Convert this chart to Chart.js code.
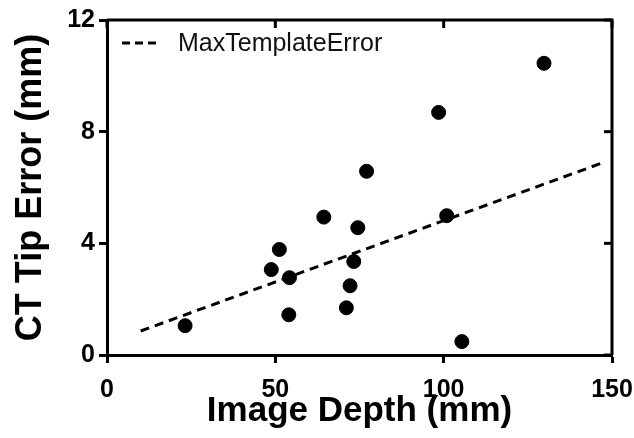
<!DOCTYPE html>
<html>
<head>
<meta charset="utf-8">
<script src="https://cdn.jsdelivr.net/npm/chart.js@4"></script>
<style>
  html, body { margin: 0; padding: 0; background: #fff; }
  #wrap { width: 634px; height: 438px; }
</style>
</head>
<body>
<div id="wrap"><canvas id="grafico"></canvas></div>
<script>
// dados
const profundidade = [23.2, 48.8, 51.2, 54.2, 54.0, 64.4, 71.1, 72.2, 73.3, 74.5, 77.1, 98.5, 100.9, 105.4, 129.8];
const erroPonta = [1.05, 3.06, 3.78, 2.77, 1.44, 4.94, 1.69, 2.48, 3.35, 4.56, 6.58, 8.69, 4.99, 0.48, 10.45];
const linhaX = [10, 148];
const linhaY = [0.86, 6.92];
const ticksX = [0, 50, 100, 150];
const ticksY = [0, 4, 8, 12];
const nomeLinha = "MaxTemplateError";

const FONTE = "'Liberation Sans', Arial, Helvetica, sans-serif";

const pontos = profundidade.map((x, i) => ({ x: x, y: erroPonta[i] }));
const linha = linhaX.map((x, i) => ({ x: x, y: linhaY[i] }));

// moldura superior/direita com ticks para dentro e legenda
const moldura = {
  id: "moldura",
  afterDraw(chart) {
    const ctx = chart.ctx;
    const a = chart.chartArea;
    const sx = chart.scales.x;
    const sy = chart.scales.y;
    ctx.save();
    ctx.strokeStyle = "#000";
    ctx.lineWidth = 3;
    ctx.beginPath();
    ctx.moveTo(a.left, a.top);
    ctx.lineTo(a.right, a.top);
    ctx.lineTo(a.right, a.bottom);
    ctx.stroke();
    ticksX.forEach(v => {
      const px = sx.getPixelForValue(v);
      ctx.beginPath();
      ctx.moveTo(px, a.top);
      ctx.lineTo(px, a.top + 8);
      ctx.stroke();
    });
    ticksY.forEach(v => {
      const py = sy.getPixelForValue(v);
      ctx.beginPath();
      ctx.moveTo(a.right, py);
      ctx.lineTo(a.right - 8, py);
      ctx.stroke();
    });

    // legenda
    const ly = a.top + 23;
    ctx.setLineDash([8, 5]);
    ctx.lineWidth = 3;
    ctx.beginPath();
    ctx.moveTo(a.left + 15, ly);
    ctx.lineTo(a.left + 52, ly);
    ctx.stroke();
    ctx.setLineDash([]);
    ctx.fillStyle = "#111";
    ctx.font = "25px " + FONTE;
    ctx.textBaseline = "middle";
    ctx.textAlign = "left";
    ctx.fillText(nomeLinha, a.left + 71, ly + 1);
    ctx.restore();
  }
};

new Chart(document.getElementById("grafico"), {
  type: "scatter",
  data: {
    datasets: [
      {
        label: "Dados",
        data: pontos,
        backgroundColor: "#000",
        borderColor: "#000",
        pointRadius: 7,
        pointHoverRadius: 7
      },
      {
        label: nomeLinha,
        data: linha,
        showLine: true,
        borderColor: "#000",
        borderWidth: 3,
        borderDash: [9, 6],
        pointRadius: 0,
        fill: false
      }
    ]
  },
  options: {
    responsive: true,
    maintainAspectRatio: false,
    animation: false,
    layout: { padding: { top: 20, right: 0, left: 0, bottom: 0 } },
    plugins: {
      legend: { display: false },
      tooltip: { enabled: false }
    },
    scales: {
      x: {
        type: "linear",
        min: 0,
        max: 150,
        afterBuildTicks: s => { s.ticks = ticksX.map(v => ({ value: v })); },
        afterFit: s => { s.height = 83; s.paddingLeft = 0; s.paddingRight = 22; },
        border: { display: true, color: "#000", width: 3 },
        grid: { drawOnChartArea: false, drawTicks: true, tickLength: 8, tickWidth: 3, tickColor: "#000" },
        ticks: { color: "#000", padding: 12, font: { family: FONTE, size: 25, weight: "bold" } },
        title: {
          display: true,
          text: "Image Depth (mm)",
          color: "#000",
          padding: { top: 0, bottom: 6 },
          font: { family: FONTE, size: 35, weight: "bold" }
        }
      },
      y: {
        type: "linear",
        min: 0,
        max: 12,
        afterBuildTicks: s => { s.ticks = ticksY.map(v => ({ value: v })); },
        afterFit: s => { s.width = 107; s.paddingTop = 0; s.paddingBottom = 0; },
        border: { display: true, color: "#000", width: 3 },
        grid: { drawOnChartArea: false, drawTicks: true, tickLength: 8, tickWidth: 3, tickColor: "#000" },
        ticks: { color: "#000", padding: 4, font: { family: FONTE, size: 25, weight: "bold" } },
        title: {
          display: true,
          text: "CT Tip Error (mm)",
          color: "#000",
          padding: { top: 9, bottom: 0 },
          font: { family: FONTE, size: 36, weight: "bold" }
        }
      }
    }
  },
  plugins: [moldura]
});
</script>
</body>
</html>
